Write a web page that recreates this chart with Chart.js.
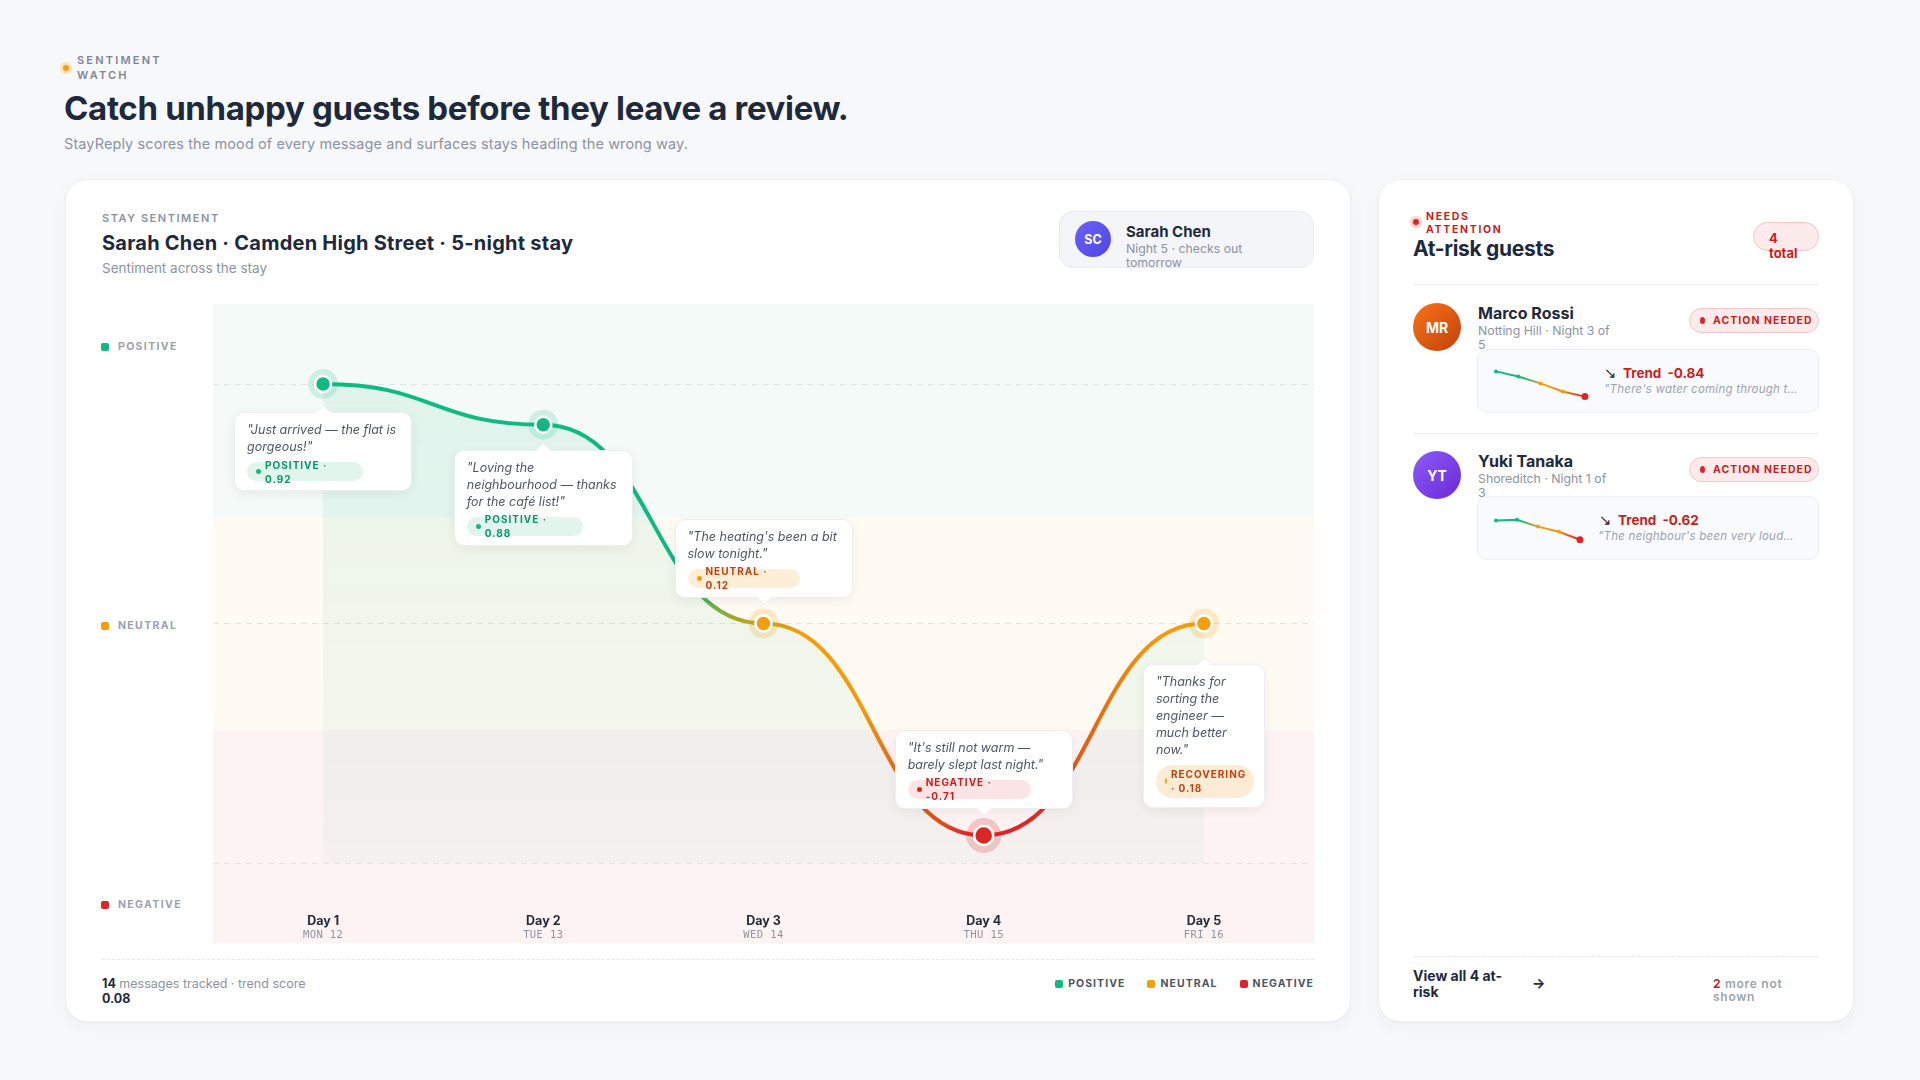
<!DOCTYPE html>
<html lang="en">
<head>
<meta charset="utf-8">
<title>Sentiment Watch</title>
<script src="https://cdn.jsdelivr.net/npm/chart.js@4.4.1/dist/chart.umd.min.js"></script>
<style>
*{box-sizing:border-box;margin:0;padding:0}
html,body{width:1920px;height:1080px;overflow:hidden}
body{background:#f7f8fa;font-family:Inter,"Noto Sans",sans-serif;color:#1e293b;position:relative}
.abs{position:absolute}
.eyebrow{left:60px;top:53px;display:flex;align-items:center;gap:5px}
.halo-dot{width:12px;height:12px;border-radius:50%;display:flex;align-items:center;justify-content:center;flex:none}
.halo-dot::after{content:"";width:6px;height:6px;border-radius:50%}
.eyebrow .halo-dot{background:#fde2b8}
.eyebrow .halo-dot::after{background:#f59e0b}
.rk.halo-dot{background:#fbd0d0}
.rk.halo-dot::after{background:#dc2626}
.eyebrow span{font-size:11px;font-weight:600;letter-spacing:.2em;color:#7d8696;line-height:15px;width:95px}
h1{left:64px;top:87px;font-size:33px;font-weight:700;letter-spacing:-.01em;line-height:42px;color:#1e293b;white-space:nowrap}
.lede{left:64px;top:135px;font-size:14.5px;letter-spacing:.1px;color:#8b93a2;line-height:18px;white-space:nowrap}
.card{background:#fff;border-radius:22px;border:1px solid #eef0f3;box-shadow:0 1px 2px rgba(15,23,42,.04),0 6px 20px rgba(15,23,42,.03)}
.kicker{font-size:11px;font-weight:600;letter-spacing:.14em;color:#8a93a3;line-height:14px}
.h2{font-size:20px;font-weight:700;line-height:26px;color:#1e293b;white-space:nowrap}
.sub{font-size:13.5px;color:#8b93a2;line-height:16px}
.chip{left:1059px;top:211px;width:255px;height:57px;background:#f3f5f8;border:1px solid #e8ebef;border-radius:14px}
.avatar{border-radius:50%;color:#fff;font-weight:700;display:flex;align-items:center;justify-content:center}
.ylab{left:101px;display:flex;align-items:center;font-size:10.5px;font-weight:700;letter-spacing:.13em;color:#9aa1ad;line-height:14px}
.ylab i,.legend i{display:block;width:8px;height:8px;border-radius:2px;margin-right:9px}
#chartWrap{left:213px;top:304px;width:1101px;height:639px;background:linear-gradient(to bottom,#f3faf7 0,#f3faf7 33.33%,#fffaf2 33.33%,#fffaf2 66.67%,#fdf3f3 66.67%,#fdf3f3 100%)}
#chartWrap canvas{position:absolute;left:0;top:0}
.callout{position:absolute;background:#fff;border:1px solid #eceef2;border-radius:10px;box-shadow:0 3px 12px rgba(15,23,42,.06);padding:8px 12px 9px 12px;z-index:2}
.callout::before{content:"";position:absolute;left:50%;width:10px;height:10px;margin-left:-5px;background:#fff;transform:rotate(45deg)}
.callout.below::before{top:-6px;border-left:1px solid #eceef2;border-top:1px solid #eceef2}
.callout.above::before{bottom:-6px;border-right:1px solid #eceef2;border-bottom:1px solid #eceef2}
.callout .q{font-size:12.5px;font-style:italic;color:#4b5563;line-height:17px;margin-bottom:7px}
.pill{display:flex;align-items:center;height:19px;border-radius:10px;padding:0 10px 0 9px;white-space:nowrap}
.pill i{display:block;width:5px;height:5px;border-radius:50%;margin-right:4px;flex:none}
.pill b{font-size:10px;font-weight:700;letter-spacing:.1em;line-height:14px;display:block}
.pill.tall{height:auto;padding:2.5px 10px 2.5px 9px;border-radius:17px}
.pill.tall i{width:2px;height:6px}
.t-positive{background:#e2f5ed;color:#059669}.t-positive i{background:#10b981}
.t-neutral{background:#fdeed8;color:#c2410c}.t-neutral i{background:#f59e0b}
.t-negative{background:#fde4e4;color:#c81e1e}.t-negative i{background:#dc2626}
.t-recovering{background:#fcecd6;color:#c2410c}.t-recovering i{background:#f59e0b}
.divider{height:0;border-top:1px dashed #e4e7eb}
.foot{left:102px;top:976px;width:215px;font-size:12.5px;color:#8b93a2;line-height:15px}
.foot b{color:#1e293b;font-weight:700}
.legend{right:606px;top:977px;display:flex;gap:22px;font-size:10.5px;font-weight:700;letter-spacing:.1em;color:#4b5563;line-height:14px}
.legend span{display:flex;align-items:center}
.legend i{margin-right:5px}
.red-kicker{font-size:10.5px;font-weight:700;letter-spacing:.16em;color:#c81e1e;line-height:13px;width:80px}
.name{font-size:16px;font-weight:700;line-height:20px;color:#1e293b;white-space:nowrap}
.meta{font-size:12.3px;color:#8b93a2;line-height:14px;width:135px}
.action{width:130px;height:25px;border-radius:13px;background:#fdeaea;border:1px solid #f6c5c5;display:flex;align-items:center;padding-left:10px;font-size:10.5px;font-weight:700;letter-spacing:.1em;color:#c81e1e}
.action i{display:block;width:5px;height:7px;border-radius:50%;background:#dc2626;margin-right:8px}
.trendbox{width:342px;height:64px;background:#f9fafb;border:1px solid #eceef1;border-radius:10px}
.arrow{font-size:15px;color:#1f2937;line-height:16px;font-family:"DejaVu Sans",Inter,sans-serif}
.trend{font-size:13.5px;font-weight:700;color:#c81e1e;line-height:16px;white-space:nowrap}
.trend span{margin-left:6px}
.tq{font-size:11.5px;font-style:italic;color:#9ca3af;line-height:14px;white-space:nowrap;overflow:hidden;text-overflow:ellipsis;letter-spacing:.02em}
</style>
</head>
<body>
<div class="abs eyebrow"><div class="halo-dot"></div><span>SENTIMENT WATCH</span></div>
<h1 class="abs">Catch unhappy guests before they leave a review.</h1>
<p class="abs lede">StayReply scores the mood of every message and surfaces stays heading the wrong way.</p>

<div class="abs card" style="left:65px;top:179px;width:1286px;height:843px"></div>
<div class="abs card" style="left:1378px;top:179px;width:476px;height:843px"></div>

<div class="abs kicker" style="left:102px;top:211px">STAY SENTIMENT</div>
<div class="abs h2" style="left:102px;top:230px;letter-spacing:.012em">Sarah Chen · Camden High Street · 5-night stay</div>
<div class="abs sub" style="left:102px;top:260px">Sentiment across the stay</div>

<div class="abs chip"></div>
<div class="abs avatar" style="left:1075px;top:221px;width:36px;height:36px;font-size:12.5px;background:linear-gradient(135deg,#6a63f3,#4f46e5)">SC</div>
<div class="abs" style="left:1126px;top:223px;font-size:15px;font-weight:700;line-height:18px;color:#1e293b">Sarah Chen</div>
<div class="abs sub" style="left:1126px;top:241.5px;width:122px;font-size:12.3px;line-height:14.5px">Night 5 · checks out tomorrow</div>

<div id="ylabels"></div>

<div id="chartWrap" class="abs">
  <canvas id="mood" width="1101" height="639"></canvas>
</div>

<div class="abs divider" style="left:102px;top:959px;width:1212px"></div>
<div class="abs foot"><b>14</b> messages tracked · trend score <b>0.08</b></div>
<div class="abs legend" id="legend"></div>

<!-- right panel -->
<div class="abs halo-dot rk" style="left:1410px;top:216px"></div>
<div class="abs red-kicker" style="left:1426px;top:209.5px">NEEDS ATTENTION</div>
<div class="abs h2" style="left:1413px;top:236px;font-size:21px;letter-spacing:-.015em">At-risk guests</div>
<div class="abs" style="left:1753px;top:222px;width:66px;height:29px;border-radius:15px;background:#fdeaea;border:1px solid #f7c4c4"></div>
<div class="abs" style="left:1769px;top:230.5px;width:34px;font-size:13px;font-weight:700;color:#c81e1e;line-height:15px">4 total</div>
<div class="abs" style="left:1413px;top:284px;width:406px;height:1px;background:#eceef1"></div>

<div class="abs avatar" style="left:1413px;top:303px;width:48px;height:48px;font-size:14px;background:linear-gradient(135deg,#f97316,#c2410c)">MR</div>
<div class="abs name" style="left:1478px;top:303px">Marco Rossi</div>
<div class="abs meta" style="left:1478px;top:324px">Notting Hill · Night 3 of 5</div>
<div class="abs action" style="left:1689px;top:308px"><i></i>ACTION NEEDED</div>
<div class="abs trendbox" style="left:1477px;top:349px"></div>
<canvas class="abs" id="sparkMarco" width="98" height="36" style="left:1492px;top:366px"></canvas>
<div class="abs arrow" style="left:1604px;top:365px">↘</div>
<div class="abs trend" style="left:1623px;top:365px">Trend<span>-0.84</span></div>
<div class="abs tq" style="left:1604px;top:382px;width:197px">"There's water coming through the ceiling again"</div>

<div class="abs" style="left:1413px;top:433px;width:406px;height:1px;background:#eceef1"></div>

<div class="abs avatar" style="left:1413px;top:451px;width:48px;height:48px;font-size:14px;background:linear-gradient(135deg,#8b5cf6,#6d28d9)">YT</div>
<div class="abs name" style="left:1478px;top:451px">Yuki Tanaka</div>
<div class="abs meta" style="left:1478px;top:472px">Shoreditch · Night 1 of 3</div>
<div class="abs action" style="left:1689px;top:457px"><i></i>ACTION NEEDED</div>
<div class="abs trendbox" style="left:1477px;top:496px"></div>
<canvas class="abs" id="sparkYuki" width="93" height="36" style="left:1492px;top:511px"></canvas>
<div class="abs arrow" style="left:1599px;top:512px">↘</div>
<div class="abs trend" style="left:1618px;top:512px">Trend<span>-0.62</span></div>
<div class="abs tq" style="left:1598px;top:529px;width:196px">"The neighbour's been very loud every night"</div>

<div class="abs divider" style="left:1413px;top:956px;width:406px"></div>
<div class="abs" style="left:1413px;top:968px;width:90px;font-size:14px;font-weight:700;line-height:16px;color:#1e293b">View all 4 at-risk</div>
<div class="abs" style="left:1532px;top:975px;font-size:14px;font-weight:700;line-height:16px;color:#1e293b">→</div>
<div class="abs" style="left:1713px;top:976.5px;width:74px;font-size:12px;font-weight:600;letter-spacing:.06em;line-height:13px;color:#9ca3af"><b style="color:#c81e1e;font-weight:700">2</b> more not shown</div>

<script>
// ---- data ----
const days = ['Day 1', 'Day 2', 'Day 3', 'Day 4', 'Day 5'];
const dates = ['MON 12', 'TUE 13', 'WED 14', 'THU 15', 'FRI 16'];
const moodLevel = [1.0, 0.83, 0.0, -0.885, 0.0];      // plotted position of each message
const scores = [0.92, 0.88, 0.12, -0.71, 0.18];        // score printed in each badge
const tones = ['positive', 'positive', 'neutral', 'negative', 'recovering'];
const quotes = [
  '"Just arrived — the flat is gorgeous!"',
  '"Loving the neighbourhood — thanks for the café list!"',
  '"The heating\'s been a bit slow tonight."',
  '"It\'s still not warm — barely slept last night."',
  '"Thanks for sorting the engineer — much better now."'
];
const bandLabels = ['POSITIVE', 'NEUTRAL', 'NEGATIVE'];
const marcoTrend = [0.62, 0.45, 0.22, -0.05, -0.22];
const yukiTrend = [0.48, 0.51, 0.28, 0.11, -0.16];

// ---- styles ----
const toneColor = {positive:'#10b981', neutral:'#f59e0b', negative:'#dc2626', recovering:'#f59e0b'};
const toneHalo = {positive:'rgba(16,185,129,0.17)', neutral:'rgba(245,158,11,0.2)', negative:'rgba(220,38,38,0.22)', recovering:'rgba(245,158,11,0.2)'};
const bandColors = ['#10b981', '#f59e0b', '#dc2626'];
const bandCenters = [347, 626, 905];
const calloutLayout = [
  {side:'below', width:178, gap:28},
  {side:'below', width:179, gap:25},
  {side:'above', width:178, gap:26},
  {side:'above', width:178, gap:27},
  {side:'below', width:122, gap:40, tall:true}
];

// y labels + legend
const yl = document.getElementById('ylabels');
bandLabels.forEach((t, i) => {
  const d = document.createElement('div');
  d.className = 'abs ylab';
  d.style.top = (bandCenters[i] - 7) + 'px';
  d.innerHTML = '<i style="background:' + bandColors[i] + '"></i>' + t;
  yl.appendChild(d);
});
const lg = document.getElementById('legend');
bandLabels.forEach((t, i) => {
  const s = document.createElement('span');
  s.innerHTML = '<i style="background:' + bandColors[i] + '"></i>' + t;
  lg.appendChild(s);
});

// callouts
const wrap = document.getElementById('chartWrap');
const calloutEls = quotes.map((q, i) => {
  const L = calloutLayout[i];
  const d = document.createElement('div');
  d.className = 'callout ' + L.side;
  d.style.width = L.width + 'px';
  const label = tones[i].toUpperCase() + ' · ' + scores[i].toFixed(2);
  d.innerHTML = '<p class="q"></p><span class="pill t-' + tones[i] + (L.tall ? ' tall' : '') + '"><i></i><b></b></span>';
  d.querySelector('.q').textContent = q;
  d.querySelector('b').textContent = label;
  wrap.appendChild(d);
  const pill = d.querySelector('.pill');
  const b = pill.querySelector('b');
  const natural = b.getBoundingClientRect().width;
  const maxW = L.width - 24;
  pill.style.width = Math.min(natural + 24, maxW) + 'px';
  b.style.whiteSpace = 'normal';
  b.style.width = '76px';
  return d;
});

// ---- plugins ----
const flatTangents = {
  id: 'flatTangents',
  afterDatasetsUpdate(chart) {
    const meta = chart.getDatasetMeta(0);
    if (!meta.dataset) return;
    meta.dataset.updateControlPoints(chart.chartArea, 'x');
    const pts = meta.data;
    pts.forEach((p, i) => {
      const prev = pts[i - 1], next = pts[i + 1];
      p.cp1x = prev ? p.x - (p.x - prev.x) * 0.5 : p.x; p.cp1y = p.y;
      p.cp2x = next ? p.x + (next.x - p.x) * 0.5 : p.x; p.cp2y = p.y;
    });
  }
};
const calloutPlugin = {
  id: 'callouts',
  afterRender(chart) {
    const meta = chart.getDatasetMeta(0);
    meta.data.forEach((pt, i) => {
      const el = calloutEls[i], L = calloutLayout[i];
      el.style.left = (pt.x - L.width / 2) + 'px';
      if (L.side === 'below') { el.style.top = (pt.y + L.gap) + 'px'; }
      else { el.style.bottom = (chart.height - pt.y + L.gap) + 'px'; }
    });
  }
};
// second tick row (dates) under the day ticks, placed with the x scale
const dateRow = {
  id: 'dateRow',
  afterDraw(chart) {
    const xs = chart.scales.x, c = chart.ctx;
    c.save();
    c.font = '10.5px "DejaVu Sans Mono", monospace';
    if ('letterSpacing' in c) c.letterSpacing = '0.4px';
    c.fillStyle = '#8b93a2';
    c.textAlign = 'center';
    c.textBaseline = 'middle';
    dates.forEach((d, i) => c.fillText(d, xs.getPixelForTick(i), xs.bottom + 2));
    c.restore();
  }
};

// stroke: slanted gradient, green (upper left) -> orange -> red (lower right)
function moodStroke(ctx) {
  const chart = ctx.chart;
  if (!chart.chartArea) return '#10b981';
  const xs = chart.scales.x, ys = chart.scales.y;
  const ax = xs.getPixelForValue(2), ay = ys.getPixelForValue(0);
  const a = 0.25, n = 1 + a * a;
  const t0 = -60, t1 = 263;
  const g = chart.ctx.createLinearGradient(ax + t0 / n * a, ay + t0 / n, ax + t1 / n * a, ay + t1 / n);
  const stops = [[-60, '#10b981'], [-25, '#7cae3e'], [0, '#c9a21a'], [18, '#f59e0b'], [110, '#f39a0d'],
                 [160, '#ea7512'], [220, '#e15a1a'], [245, '#df4e1c'], [263, '#dc2626']];
  stops.forEach(([t, c]) => g.addColorStop((t - t0) / (t1 - t0), c));
  return g;
}
function moodFill(ctx) {
  const chart = ctx.chart;
  if (!chart.chartArea) return 'rgba(16,185,129,0.07)';
  const y = chart.scales.y;
  const g = chart.ctx.createLinearGradient(0, y.getPixelForValue(1), 0, y.getPixelForValue(-1));
  g.addColorStop(0, 'rgba(16,185,129,0.085)');
  g.addColorStop(1, 'rgba(16,185,129,0.04)');
  return g;
}

new Chart(document.getElementById('mood'), {
  type: 'line',
  data: {
    labels: days,
    datasets: [
      {
        data: moodLevel,
        order: 1,
        borderColor: moodStroke,
        borderWidth: 4,
        tension: 0.4,
        fill: {value: -1},
        backgroundColor: moodFill,
        pointRadius: moodLevel.map((v, i) => tones[i] === 'negative' ? 9.5 : 8),
        pointBackgroundColor: tones.map(t => toneColor[t]),
        pointBorderColor: '#ffffff',
        pointBorderWidth: 2.5
      },
      {
        data: moodLevel,
        order: 2,
        showLine: false,
        pointRadius: moodLevel.map((v, i) => tones[i] === 'negative' ? 17.5 : 15),
        pointBackgroundColor: tones.map(t => toneHalo[t]),
        pointBorderWidth: 0
      }
    ]
  },
  options: {
    responsive: false,
    animation: false,
    events: [],
    clip: false,
    layout: {autoPadding: false, padding: {top: 0, bottom: 10, left: 0, right: 0}},
    plugins: {legend: {display: false}, tooltip: {enabled: false}},
    scales: {
      x: {
        offset: true,
        grid: {display: false, drawTicks: false},
        border: {display: false},
        ticks: {padding: 4, color: '#1f2937', font: {family: 'Inter', size: 12.5, weight: '700'}}
      },
      y: {
        min: -1.196,
        max: 1.334,
        afterBuildTicks: s => { s.ticks = [{value: -1}, {value: 0}, {value: 1}]; },
        ticks: {display: false},
        border: {display: false, dash: [6, 5]},
        grid: {drawTicks: false, color: '#e0e3e8', lineWidth: 1}
      }
    }
  },
  plugins: [flatTangents, calloutPlugin, dateRow]
});

// sparklines
function sparkTone(v) { return v >= 0.4 ? '#10b981' : (v > -0.1 ? '#f59e0b' : '#dc2626'); }
function sparkStroke(ctx) {
  const chart = ctx.chart;
  if (!chart.chartArea) return '#10b981';
  const a = chart.chartArea;
  const g = chart.ctx.createLinearGradient(a.left, 0, a.right, 0);
  g.addColorStop(0, '#10b981');
  g.addColorStop(0.28, '#10b981');
  g.addColorStop(0.55, '#f59e0b');
  g.addColorStop(0.75, '#f08a10');
  g.addColorStop(1, '#dc2626');
  return g;
}
function spark(id, values) {
  new Chart(document.getElementById(id), {
    type: 'line',
    data: {
      labels: values.map((v, i) => 'N' + (i + 1)),
      datasets: [{
        data: values,
        borderColor: sparkStroke,
        borderWidth: 2,
        tension: 0,
        pointRadius: values.map((v, i) => i === values.length - 1 ? 3.5 : 2),
        pointBackgroundColor: values.map(sparkTone),
        pointBorderWidth: 0
      }]
    },
    options: {
      responsive: false, animation: false, events: [], clip: false,
      layout: {autoPadding: false, padding: {left: 4, right: 5, top: 0, bottom: 0}},
      plugins: {legend: {display: false}, tooltip: {enabled: false}},
      scales: {x: {display: false}, y: {display: false, min: -0.4, max: 0.8}}
    }
  });
}
spark('sparkMarco', marcoTrend);
spark('sparkYuki', yukiTrend);
</script>
</body>
</html>
